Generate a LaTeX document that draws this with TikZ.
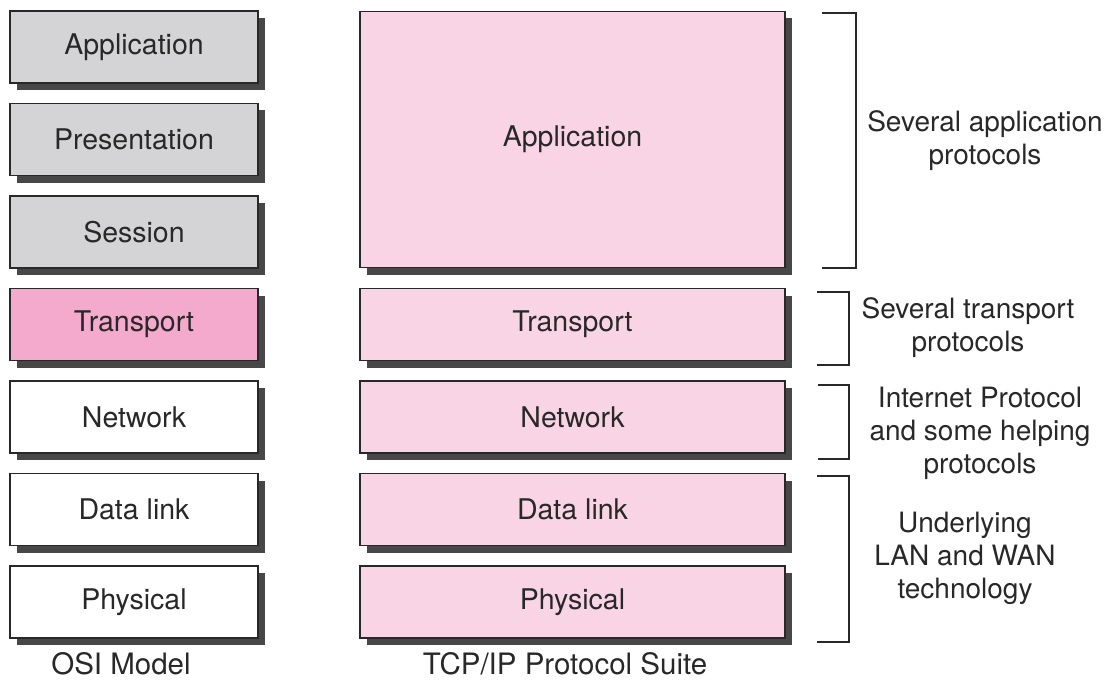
\documentclass[tikz,border=0pt]{standalone}
\usepackage{fontspec}
\setmainfont{TeX Gyre Heros}
\usetikzlibrary{positioning, shadows}
\definecolor{osigray}{RGB}{212,212,215}
\definecolor{hotpink}{RGB}{244,170,205}
\definecolor{palepink}{RGB}{249,212,229}
\definecolor{inkgray}{RGB}{40,40,40}

\begin{document}
\begin{tikzpicture}[x=1pt, y=-1pt,
  layer/.style={draw=inkgray, line width=1.3pt, rectangle, inner sep=0pt, text=inkgray,
    minimum height=72pt, font=\fontsize{28.5}{33}\selectfont,
    drop shadow={shadow xshift=7pt, shadow yshift=-7pt, fill=black!72, opacity=1}},
  osi/.style={layer, minimum width=248pt},
  tcp/.style={layer, minimum width=425pt, fill=palepink},
  note/.style={align=center, text=inkgray, font=\fontsize{28}{33}\selectfont},
  caption/.style={note, font=\fontsize{29.5}{33}\selectfont},
  brace/.style={draw=inkgray, line width=1.2pt}]
\useasboundingbox (0,0) rectangle (1119,682);

% OSI column
\node[osi, fill=osigray] (oapp) at (134,47) {Application};
\node[osi, fill=osigray, below=19.2pt of oapp] (opres) {Presentation};
\node[osi, fill=osigray, below=19.2pt of opres] (osess) {Session};
\node[osi, fill=hotpink, below=19.2pt of osess] (otrans) {Transport};
\node[osi, fill=white, below=19.2pt of otrans] (onet) {Network};
\node[osi, fill=white, below=19.2pt of onet] (olink) {Data link};
\node[osi, fill=white, below=19.2pt of olink] (ophys) {Physical};

% TCP/IP column
\node[tcp, right=100.7pt of otrans] (ttrans) {Transport};
\node[tcp, minimum height=256pt, above=19.7pt of ttrans] (tapp) {Application};
\node[tcp, right=100.7pt of onet] (tnet) {Network};
\node[tcp, right=100.7pt of olink] (tlink) {Data link};
\node[tcp, right=100.7pt of ophys] (tphys) {Physical};

\node[caption] (osiname) at (121,664) {OSI Model};
\node[caption] (tcpname) at (565,664) {TCP/IP Protocol Suite};

% brackets and notes
\draw[brace] (822,13) -| (856,268) -- (822,268);
\draw[brace] (817,292) -| (849,365) -- (817,365);
\draw[brace] (818,385) -| (849,459) -- (818,459);
\draw[brace] (817,476) -| (849,642) -- (817,642);

\node[note] (napp) at (985,141) {Several application\\protocols};
\node[note] (ntrans) at (968,328) {Several transport\\protocols};
\node[note] (nnet) at (980,433) {Internet Protocol\\and some helping\\protocols};
\node[note] (nlan) at (965,558) {Underlying\\LAN and WAN\\technology};
\end{tikzpicture}
\end{document}
